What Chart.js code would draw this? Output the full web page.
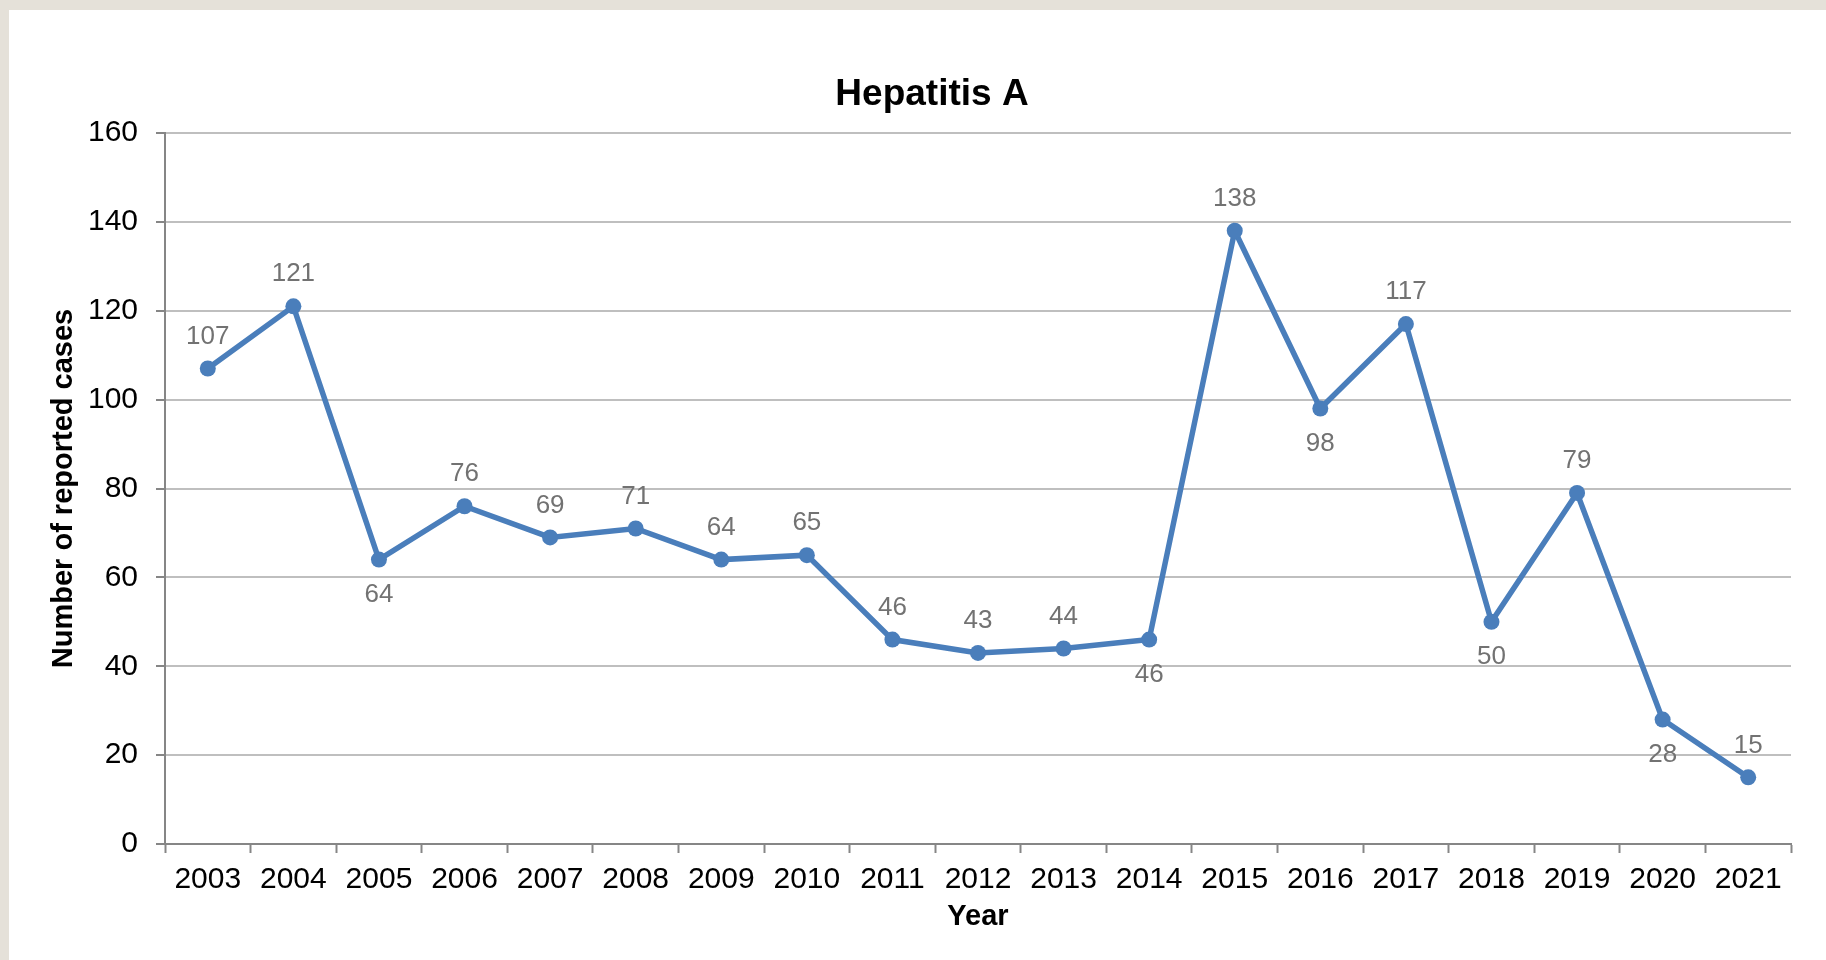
<!DOCTYPE html>
<html>
<head>
<meta charset="utf-8">
<script src="https://cdn.jsdelivr.net/npm/chart.js@4/dist/chart.umd.min.js"></script>
<style>
  html, body { margin: 0; padding: 0; background: #e5e1d9; overflow: hidden; }
  #marco { position: absolute; left: 9px; top: 10px; width: 1817px; height: 950px; background: #ffffff; }
  #canva { display: block; }
</style>
</head>
<body>
<div id="marco"><canvas id="canva" width="1817" height="950"></canvas></div>
<script>
// Datos
const years = ["2003", "2004", "2005", "2006", "2007", "2008", "2009", "2010", "2011", "2012",
  "2013", "2014", "2015", "2016", "2017", "2018", "2019", "2020", "2021"];
const cases = [107, 121, 64, 76, 69, 71, 64, 65, 46, 43, 44, 46, 138, 98, 117, 50, 79, 28, 15];
const yTicks = [0, 20, 40, 60, 80, 100, 120, 140, 160];
// dónde va cada etiqueta respecto a su punto
const labelSide = ["above", "above", "below", "above", "above", "above", "above", "above", "above", "above",
  "above", "below", "above", "below", "above", "below", "above", "below", "above"];

const chartTitle = "Hepatitis A";
const fuente = "'Liberation Sans', Arial, sans-serif";
const azul = "#4a7ebb";
const grisEje = "#868686";

Chart.defaults.font.family = fuente;

// Etiquetas con el valor encima o debajo de cada punto
const etiquetasDatos = {
  id: "etiquetasDatos",
  afterDatasetsDraw(chart) {
    const ctx = chart.ctx;
    const meta = chart.getDatasetMeta(0);
    ctx.save();
    ctx.font = "26px " + fuente;
    ctx.fillStyle = "#727272";
    ctx.textAlign = "center";
    ctx.textBaseline = "middle";
    meta.data.forEach((punto, i) => {
      const dy = labelSide[i] === "below" ? 35 : -32;
      ctx.fillText(String(cases[i]), punto.x, punto.y + dy);
    });
    ctx.restore();
  }
};

// El título del original no está centrado sobre el área del gráfico
const tituloGrafico = {
  id: "tituloGrafico",
  afterDraw(chart) {
    const ctx = chart.ctx;
    ctx.save();
    ctx.font = "bold 37px " + fuente;
    ctx.fillStyle = "#000000";
    ctx.textAlign = "center";
    ctx.textBaseline = "alphabetic";
    ctx.fillText(chartTitle, 923, 95);
    ctx.restore();
  }
};

const canva = document.getElementById("canva").getContext("2d");

new Chart(canva, {
  type: "line",
  data: {
    labels: years,
    datasets: [{
      label: "Number of reported cases",
      data: cases,
      borderColor: azul,
      backgroundColor: azul,
      borderWidth: 5.5,
      tension: 0,
      pointRadius: 8,
      pointHoverRadius: 8,
      pointBorderWidth: 0,
      pointBackgroundColor: azul
    }]
  },
  options: {
    responsive: false,
    animation: false,
    layout: { padding: { top: 123, right: 35, bottom: 0, left: 20 } },
    scales: {
      x: {
        offset: true,
        grid: {
          offset: true,
          drawOnChartArea: false,
          tickLength: 9,
          tickColor: grisEje,
          tickWidth: 2
        },
        border: { color: grisEje, width: 2 },
        ticks: {
          color: "#000000",
          font: { size: 30 },
          padding: 9,
          maxRotation: 0,
          autoSkip: false
        },
        title: {
          display: true,
          text: "Year",
          color: "#000000",
          font: { size: 29, weight: "bold" },
          padding: { top: 0, bottom: 26 }
        },
        afterFit(scale) { scale.height = 116; }
      },
      y: {
        min: yTicks[0],
        max: yTicks[yTicks.length - 1],
        grid: {
          color: "#bfbfbf",
          lineWidth: 2,
          tickLength: 9,
          tickColor: grisEje,
          tickWidth: 2
        },
        border: { color: grisEje, width: 2 },
        ticks: {
          stepSize: yTicks[1] - yTicks[0],
          color: "#000000",
          font: { size: 30 },
          padding: 18
        },
        title: {
          display: true,
          text: "Number of reported cases",
          color: "#000000",
          font: { size: 29, weight: "bold" },
          padding: { top: 18, bottom: 0 }
        },
        afterFit(scale) { scale.width = 136; }
      }
    },
    plugins: {
      legend: { display: false },
      title: { display: false },
      tooltip: { enabled: false }
    }
  },
  plugins: [etiquetasDatos, tituloGrafico]
});
</script>
</body>
</html>
